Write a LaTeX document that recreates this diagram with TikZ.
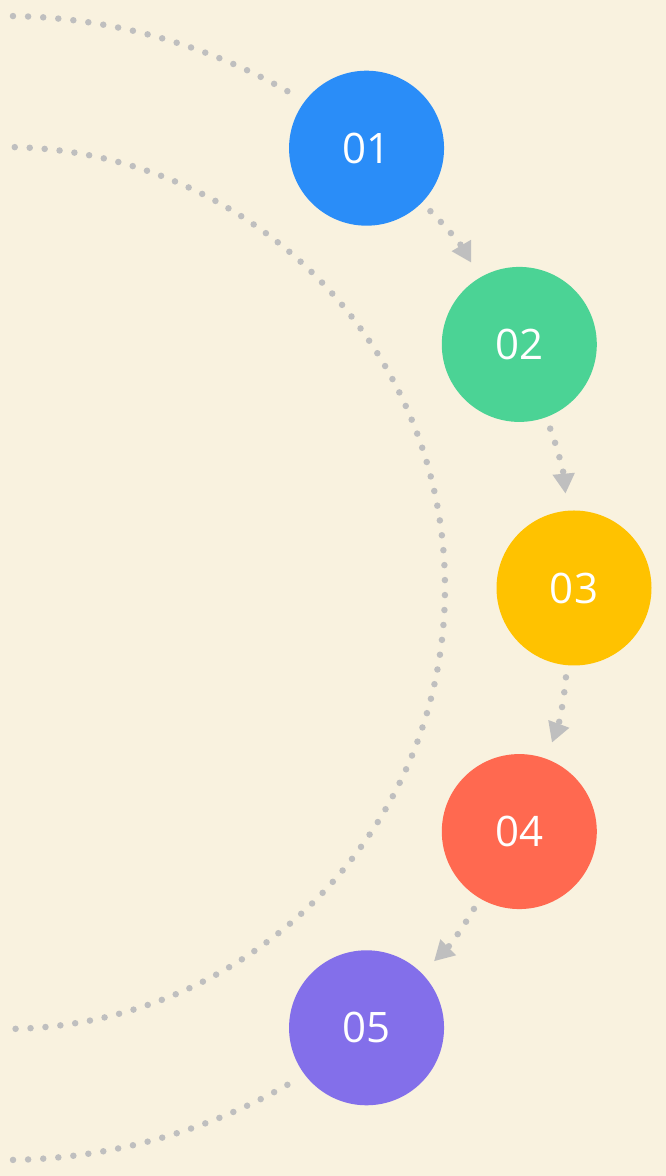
\documentclass[tikz,border=0pt]{standalone}
\usepackage{fontspec}
\setmainfont{Open Sans}
\usetikzlibrary{arrows.meta}
\definecolor{bgcream}{HTML}{F9F2DF}
\definecolor{dotgray}{HTML}{BFBFBF}
\definecolor{cblue}{HTML}{2A8DF8}
\definecolor{cgreen}{HTML}{4BD395}
\definecolor{cyellow}{HTML}{FFC200}
\definecolor{cred}{HTML}{FF6950}
\definecolor{cpurple}{HTML}{836FEA}
\tikzset{
  stepcircle/.style={circle, minimum size=155pt, inner sep=0pt, draw=none,
    text=white, font=\fontsize{42}{44}\selectfont},
  dotline/.style={draw=dotgray, line width=6.5pt, line cap=round,
    dash pattern=on 0pt off #1},
  dotline/.default=15pt,
  flowarrow/.style={dotline, bend left=7.5,
    -{Triangle[length=20pt,width=21pt,fill=dotgray]},
    shorten <=12pt, shorten >=17pt},
}
\begin{document}
\begin{tikzpicture}[x=1pt,y=1pt]
  % canvas
  \fill[bgcream] (0,0) rectangle (666,1176);
  \useasboundingbox (0,0) rectangle (666,1176);
  % common centre of the rings
  \coordinate (C) at (4,588);

  % inner dotted ring
  \draw[dotline=14.98pt] ([shift={(88.6:441)}]C) arc[start angle=88.6, end angle=-88.6, radius=441];
  % outer dotted ring, upper and lower pieces
  \draw[dotline=15.13pt] ([shift={(89.1:572)}]C) arc[start angle=89.1, end angle=60.3, radius=572];
  \draw[dotline=15.13pt] ([shift={(-60.3:572)}]C) arc[start angle=-60.3, end angle=-89.1, radius=572];

  % step circles
  \node[stepcircle, fill=cblue]   (s1) at ([shift={(50.5:570)}]C) {01};
  \node[stepcircle, fill=cgreen]  (s2) at ([shift={(25.3:570)}]C) {02};
  \node[stepcircle, fill=cyellow] (s3) at ([shift={(0:570)}]C)    {03};
  \node[stepcircle, fill=cred]    (s4) at ([shift={(-25.3:570)}]C) {04};
  \node[stepcircle, fill=cpurple] (s5) at ([shift={(-50.5:570)}]C) {05};

  % arrows between consecutive steps
  \draw[flowarrow] (s1) to (s2);
  \draw[flowarrow] (s2) to (s3);
  \draw[flowarrow] (s3) to (s4);
  \draw[flowarrow] (s4) to (s5);
\end{tikzpicture}
\end{document}
